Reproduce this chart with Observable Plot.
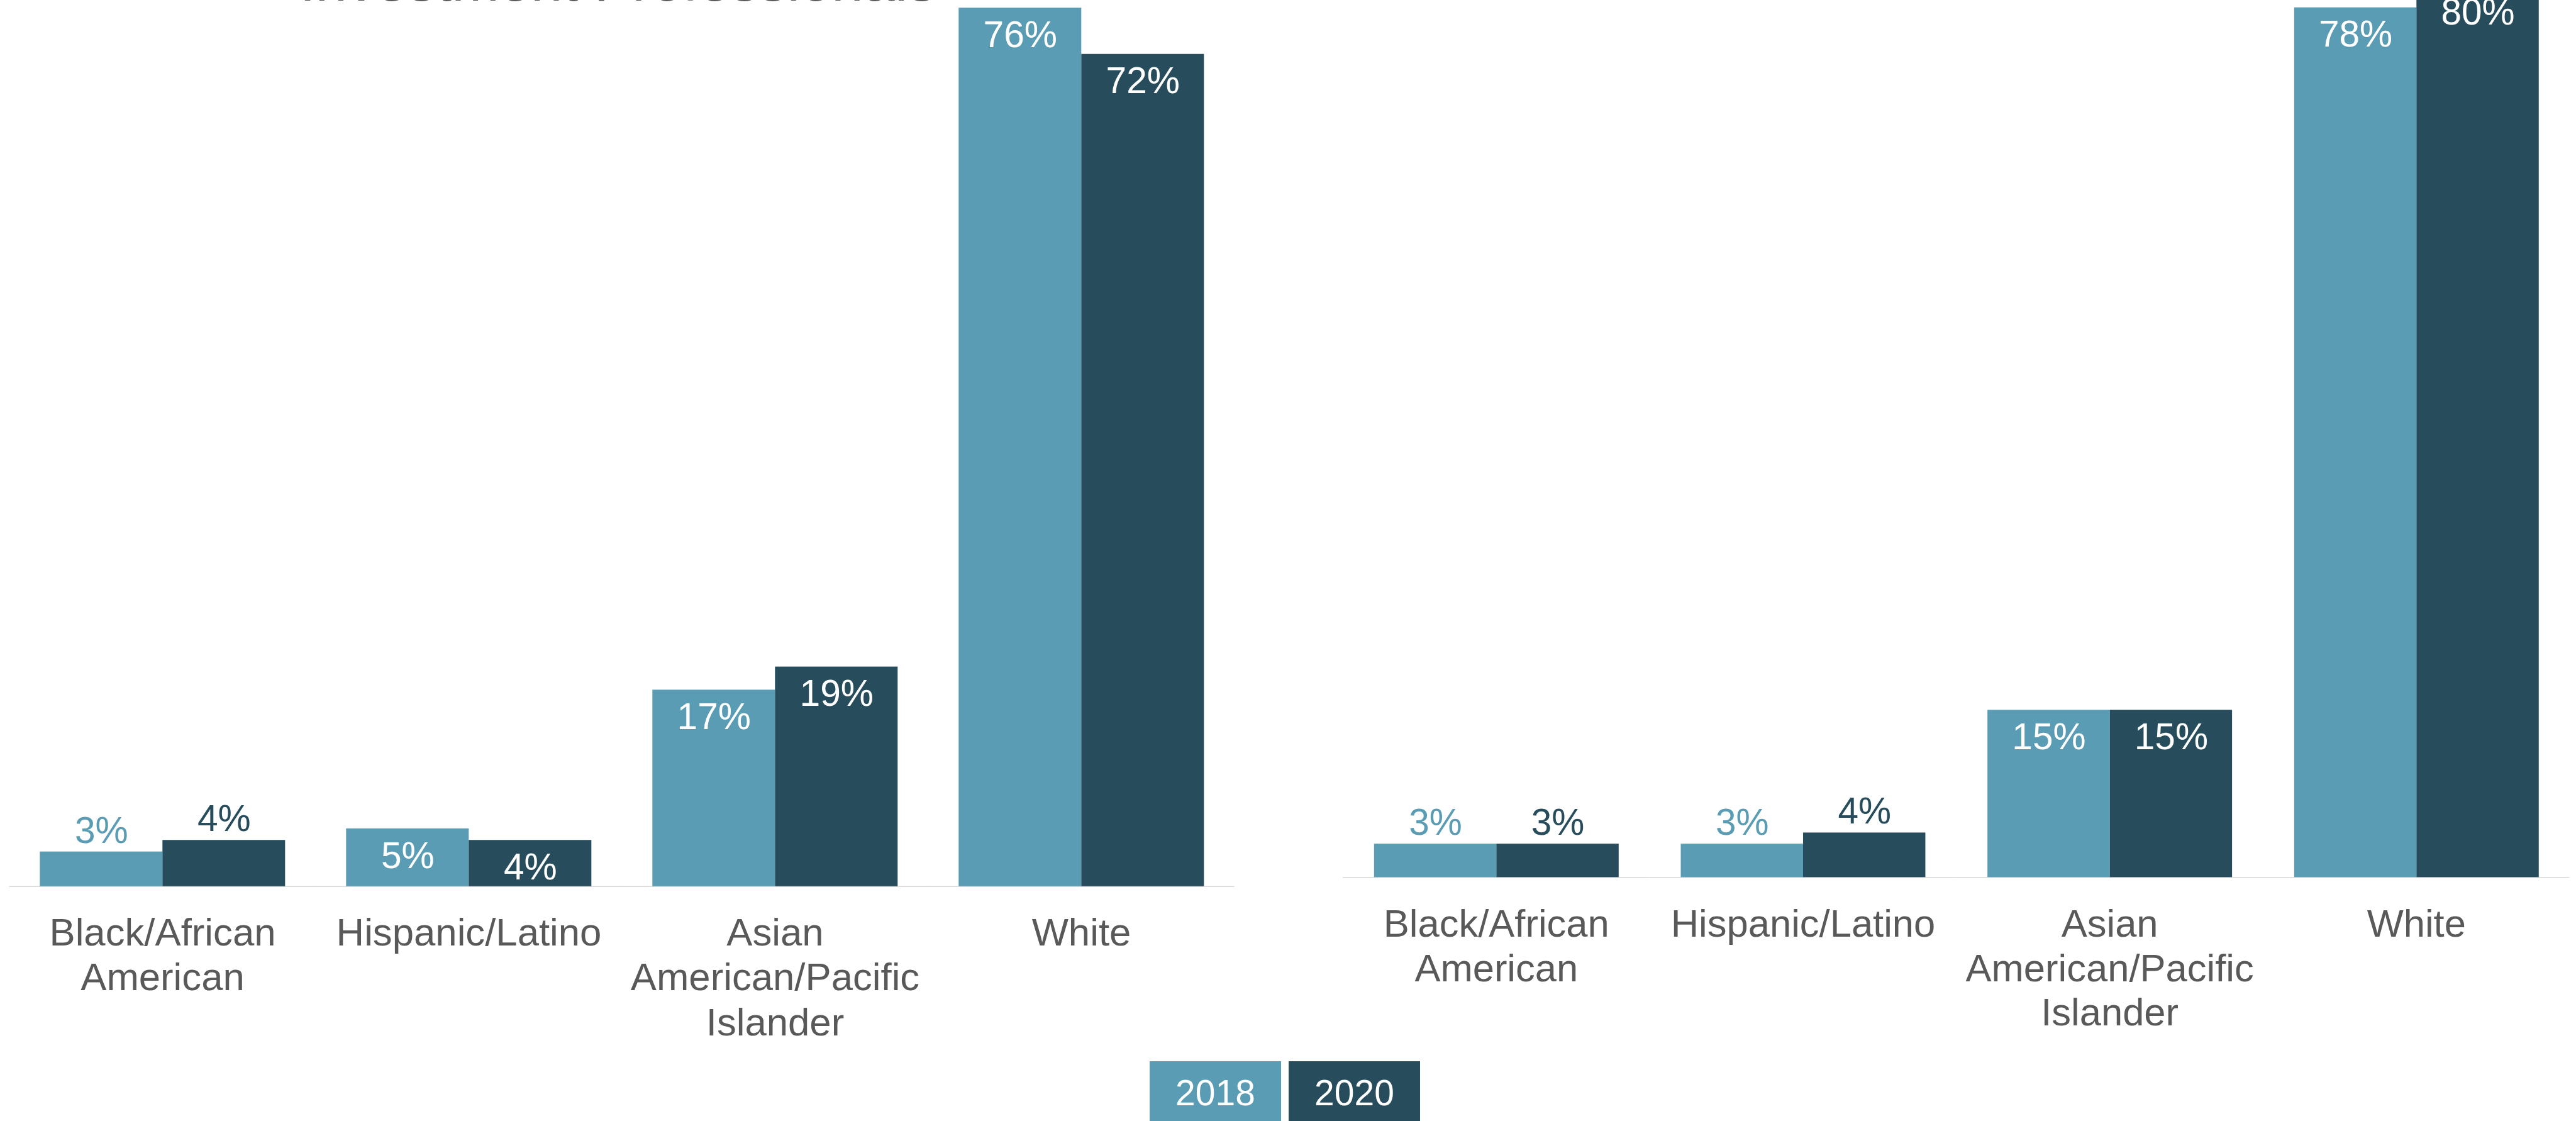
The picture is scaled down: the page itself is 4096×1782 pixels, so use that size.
<!DOCTYPE html>
<html>
<head>
<meta charset="utf-8">
<script src="https://cdn.jsdelivr.net/npm/d3@7"></script>
<script src="https://cdn.jsdelivr.net/npm/@observablehq/plot@0.6"></script>
<style>
html, body { margin: 0; padding: 0; background: #fff; width: 4096px; height: 1782px; overflow: hidden; }
#root { position: relative; width: 4096px; height: 1782px; overflow: hidden; font-family: "Liberation Sans", Arial, sans-serif; }
.chart { position: absolute; }
#title { position: absolute; left: 0; width: 1965px; top: -75.2px; text-align: center; font-size: 90.6px; line-height: 90.6px; color: #595959; white-space: nowrap; }
#legend { position: absolute; left: 1828px; top: 1687px; display: flex; gap: 12px; }
#legend div { width: 209px; height: 110px; box-sizing: border-box; padding-top: 22px; color: #fff; font-size: 57px; line-height: 57px; text-align: center; }
</style>
</head>
<body>
<div id="root">
  <div id="title"></div>
  <div id="left" class="chart" style="left:0px; top:-244.85px;"></div>
  <div id="right" class="chart" style="left:2124.6px; top:-200.9px;"></div>
  <div id="legend"></div>
</div>
<script>
// ---- data ----
const titleText = "Investment Professionals";
const categories = ["Black/African American", "Hispanic/Latino", "Asian American/Pacific Islander", "White"];
const tickLabels = ["Black/African\nAmerican", "Hispanic/Latino", "Asian\nAmerican/Pacific\nIslander", "White"];
const years = ["2018", "2020"];
const left2018 = [3, 5, 17, 76];
const left2020 = [4, 4, 19, 72];
const right2018 = [3, 3, 15, 78];
const right2020 = [3, 4, 15, 80];
// label placement: true = inside top of bar (white), false = above the bar
const leftInside2018 = [false, true, true, true];
const leftInside2020 = [false, true, true, true];
const rightInside2018 = [false, false, true, true];
const rightInside2020 = [false, false, true, true];
const colors = ["#5B9CB5", "#274C5C"];

function rows(v18, v20, i18, i20) {
  return categories.flatMap((c, i) => [
    {category: c, year: years[0], value: v18[i], inside: i18[i]},
    {category: c, year: years[1], value: v20[i], inside: i20[i]}
  ]);
}

function chart({data, plotWidth, plotHeight, yMax, marginLeft, marginRight}) {
  const marginBottom = 320;
  const step = plotWidth / 4;
  const ext = step * 0.1;
  const catFont = 61.7, catLH = 1.153, catBaseline = 94;
  const valFont = 58.7;
  return Plot.plot({
    width: marginLeft + plotWidth + marginRight,
    height: plotHeight + marginBottom,
    marginTop: 0, marginBottom, marginLeft, marginRight,
    style: {fontFamily: '"Liberation Sans", Arial, sans-serif', background: "transparent", overflow: "visible"},
    fx: {domain: categories, paddingInner: 0.2, paddingOuter: 0.1, axis: null, label: null},
    x: {domain: years, padding: 0, axis: null},
    y: {domain: [0, yMax], axis: null},
    color: {domain: years, range: colors},
    marks: [
      Plot.ruleY([0], {stroke: "#D9D9D9", strokeWidth: 1.5, insetLeft: -ext, insetRight: -ext}),
      Plot.barY(data, {fx: "category", x: "year", y: "value", fill: "year"}),
      Plot.text(data.filter(d => d.inside), {
        fx: "category", x: "year", y: "value", text: d => d.value + "%",
        fill: "white", fontSize: valFont, lineAnchor: "middle", dy: 43.4
      }),
      Plot.text(data.filter(d => !d.inside), {
        fx: "category", x: "year", y: "value", text: d => d.value + "%",
        fill: "year", fontSize: valFont, lineAnchor: "bottom", dy: -14.5
      }),
      Plot.text(categories, {
        fx: d => d, frameAnchor: "bottom", lineAnchor: "top",
        text: (d, i) => tickLabels[i], fill: "#595959",
        fontSize: catFont, lineHeight: catLH, dy: catBaseline - 0.71 * catLH * catFont
      })
    ]
  });
}

document.getElementById("title").textContent = titleText;

document.getElementById("left").appendChild(chart({
  data: rows(left2018, left2020, leftInside2018, leftInside2020),
  plotWidth: 1948.1, plotHeight: 1653.75, yMax: 90, marginLeft: 14.7, marginRight: 10
}));

document.getElementById("right").appendChild(chart({
  data: rows(right2018, right2020, rightInside2018, rightInside2020),
  plotWidth: 1956.8, plotHeight: 1599.7, yMax: 90, marginLeft: 10, marginRight: 10
}));

const legend = document.getElementById("legend");
years.forEach((y, i) => {
  const d = document.createElement("div");
  d.textContent = y;
  d.style.background = colors[i];
  legend.appendChild(d);
});
</script>
</body>
</html>
